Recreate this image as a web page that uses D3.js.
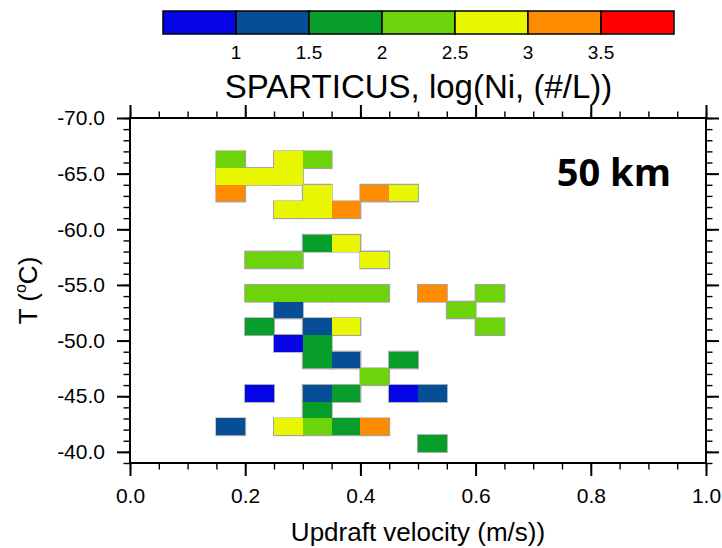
<!DOCTYPE html>
<html>
<head>
<meta charset="utf-8">
<script src="https://cdn.jsdelivr.net/npm/d3@7"></script>
<style>
  html, body { margin: 0; padding: 0; background: #fff; }
  svg { display: block; }
</style>
</head>
<body>
<svg id="chart" width="722" height="548"></svg>
<script>
// Binned ice number concentration, log10(Ni) in #/L, for each
// (updraft velocity, temperature) bin. Bins: 0.05 m/s by 1.5 degC.
const cellVel = [
  0.175, 0.275, 0.325,
  0.175, 0.225, 0.275,
  0.175, 0.325, 0.425, 0.475,
  0.275, 0.325, 0.375,
  0.325, 0.375,
  0.225, 0.275, 0.425,
  0.225, 0.275, 0.325, 0.375, 0.425, 0.525, 0.625,
  0.275, 0.575,
  0.225, 0.325, 0.375, 0.625,
  0.275, 0.325,
  0.325, 0.375, 0.475,
  0.425,
  0.225, 0.325, 0.375, 0.475, 0.525,
  0.325,
  0.175, 0.275, 0.325, 0.375, 0.425,
  0.525
];
const cellTemp = [
  -66.25, -66.25, -66.25,
  -64.75, -64.75, -64.75,
  -63.25, -63.25, -63.25, -63.25,
  -61.75, -61.75, -61.75,
  -58.75, -58.75,
  -57.25, -57.25, -57.25,
  -54.25, -54.25, -54.25, -54.25, -54.25, -54.25, -54.25,
  -52.75, -52.75,
  -51.25, -51.25, -51.25, -51.25,
  -49.75, -49.75,
  -48.25, -48.25, -48.25,
  -46.75,
  -45.25, -45.25, -45.25, -45.25, -45.25,
  -43.75,
  -42.25, -42.25, -42.25, -42.25, -42.25,
  -40.75
];
const cellLogNi = [
  2.2, 2.7, 2.3,
  2.8, 2.7, 2.6,
  3.2, 2.7, 3.1, 2.8,
  2.6, 2.7, 3.1,
  1.8, 2.6,
  2.3, 2.2, 2.7,
  2.2, 2.3, 2.2, 2.4, 2.3, 3.2, 2.2,
  1.3, 2.3,
  1.8, 1.2, 2.7, 2.2,
  0.8, 1.7,
  1.9, 1.3, 1.8,
  2.2,
  0.9, 1.4, 1.7, 0.8, 1.2,
  1.8,
  1.3, 2.6, 2.2, 1.9, 3.1,
  1.7
];

const binWidth = 0.05;   // m/s
const binHeight = 1.5;   // degC

// Colour levels for log(Ni)
const levelBreaks = [1, 1.5, 2, 2.5, 3, 3.5];
const levelLabels = ["1", "1.5", "2", "2.5", "3", "3.5"];
const levelColors = ["#0505e6", "#064e96", "#089e2c", "#6dd30a", "#e8f600", "#ff8c00", "#ff0000"];

const xTicksMajor = [0, 0.2, 0.4, 0.6, 0.8, 1.0];
const yTicksMajor = [-70, -65, -60, -55, -50, -45, -40];

const FONT = "'Liberation Sans', Arial, Helvetica, sans-serif";

const svg = d3.select("#chart");

const plot = { left: 130, right: 706, top: 118, bottom: 463 };

const x = d3.scaleLinear().domain([0, 1]).range([plot.left, plot.right]);
const y = d3.scaleLinear().domain([-70, -39]).range([plot.top, plot.bottom]);
const color = d3.scaleThreshold().domain(levelBreaks).range(levelColors);

const cells = cellVel.map((v, i) => ({ v, t: cellTemp[i], z: cellLogNi[i] }));

// Cells: a grey outline layer underneath, then the fills on top so only
// the outer boundary of each patch keeps its grey edge.
const cellG = svg.append("g");
cellG.selectAll("rect.edge").data(cells).join("rect")
  .attr("class", "edge")
  .attr("x", d => x(d.v - binWidth / 2))
  .attr("y", d => y(d.t - binHeight / 2))
  .attr("width", d => x(d.v + binWidth / 2) - x(d.v - binWidth / 2))
  .attr("height", d => y(d.t + binHeight / 2) - y(d.t - binHeight / 2))
  .attr("fill", "none")
  .attr("stroke", "#a3a3a3")
  .attr("stroke-width", 2);
cellG.selectAll("rect.fill").data(cells).join("rect")
  .attr("class", "fill")
  .attr("x", d => x(d.v - binWidth / 2))
  .attr("y", d => y(d.t - binHeight / 2))
  .attr("width", d => x(d.v + binWidth / 2) - x(d.v - binWidth / 2))
  .attr("height", d => y(d.t + binHeight / 2) - y(d.t - binHeight / 2))
  .attr("fill", d => color(d.z))
  .attr("shape-rendering", "crispEdges");

// Axes: outward ticks on all four sides
const fmt = d => d.toFixed(1);
const xMinor = d3.range(0, 1.0001, 0.05).map(d => +d.toFixed(2));
const yMinor = d3.range(-70, -38.999, 1);

function styleAxis(g) {
  g.select(".domain").remove();
  g.selectAll(".tick line").attr("stroke", "#000").attr("stroke-width", 2);
  g.selectAll(".tick text").attr("fill", "#000")
    .style("font-family", FONT).style("font-size", "21px");
}
function minorAxis(g) {
  g.select(".domain").remove();
  g.selectAll(".tick line").attr("stroke", "#000").attr("stroke-width", 1.4);
  g.selectAll(".tick text").remove();
}

svg.append("g").attr("transform", `translate(0,${plot.bottom})`)
  .call(d3.axisBottom(x).tickValues(xMinor).tickSize(6.5).tickFormat("")).call(minorAxis);
svg.append("g").attr("transform", `translate(0,${plot.top})`)
  .call(d3.axisTop(x).tickValues(xMinor).tickSize(6.5).tickFormat("")).call(minorAxis);
svg.append("g").attr("transform", `translate(${plot.left},0)`)
  .call(d3.axisLeft(y).tickValues(yMinor).tickSize(6.5).tickFormat("")).call(minorAxis);
svg.append("g").attr("transform", `translate(${plot.right},0)`)
  .call(d3.axisRight(y).tickValues(yMinor).tickSize(6.5).tickFormat("")).call(minorAxis);

svg.append("g").attr("transform", `translate(0,${plot.bottom})`)
  .call(d3.axisBottom(x).tickValues(xTicksMajor).tickSize(13).tickPadding(12).tickFormat(fmt)).call(styleAxis);
svg.append("g").attr("transform", `translate(0,${plot.top})`)
  .call(d3.axisTop(x).tickValues(xTicksMajor).tickSize(13).tickFormat("")).call(styleAxis);
svg.append("g").attr("transform", `translate(${plot.left},0)`)
  .call(d3.axisLeft(y).tickValues(yTicksMajor).tickSize(13).tickPadding(12).tickFormat(fmt)).call(styleAxis);
svg.append("g").attr("transform", `translate(${plot.right},0)`)
  .call(d3.axisRight(y).tickValues(yTicksMajor).tickSize(13).tickFormat("")).call(styleAxis);

// Frame
svg.append("rect")
  .attr("x", plot.left).attr("y", plot.top)
  .attr("width", plot.right - plot.left).attr("height", plot.bottom - plot.top)
  .attr("fill", "none").attr("stroke", "#000").attr("stroke-width", 2);

// Axis titles
svg.append("text")
  .attr("x", (plot.left + plot.right) / 2).attr("y", 541)
  .attr("text-anchor", "middle")
  .style("font-family", FONT).style("font-size", "26px")
  .text("Updraft velocity (m/s))");

const yTitle = svg.append("text")
  .attr("transform", `translate(37,${(plot.top + plot.bottom) / 2}) rotate(-90)`)
  .attr("text-anchor", "middle")
  .style("font-family", FONT).style("font-size", "26px");
yTitle.append("tspan").text("T (");
yTitle.append("tspan").style("font-size", "16px").attr("dy", -11).text("o");
yTitle.append("tspan").attr("dy", 11).text("C)");

// Panel label
svg.append("text")
  .attr("x", 671).attr("y", 186)
  .attr("text-anchor", "end")
  .style("font-family", "'Open Sans', sans-serif")
  .style("font-weight", "bold").style("font-size", "38px")
  .text("50 km");

// Colour bar
const cb = { left: 163, right: 674, top: 11, height: 23 };
const nBox = levelColors.length;
const cbx = d3.scaleLinear().domain([0, nBox]).range([cb.left, cb.right]);
const cbG = svg.append("g");
cbG.selectAll("rect").data(levelColors).join("rect")
  .attr("x", (d, i) => cbx(i)).attr("y", cb.top)
  .attr("width", (d, i) => cbx(i + 1) - cbx(i)).attr("height", cb.height)
  .attr("fill", d => d)
  .attr("stroke", "#000").attr("stroke-width", 1.5);
cbG.selectAll("text").data(levelLabels).join("text")
  .attr("x", (d, i) => cbx(i + 1)).attr("y", 59)
  .attr("text-anchor", "middle")
  .style("font-family", FONT).style("font-size", "19px")
  .text(d => d);

svg.append("text")
  .attr("x", (cb.left + cb.right) / 2).attr("y", 98)
  .attr("text-anchor", "middle")
  .style("font-family", FONT).style("font-size", "33px")
  .text("SPARTICUS, log(Ni, (#/L))");
</script>
</body>
</html>
